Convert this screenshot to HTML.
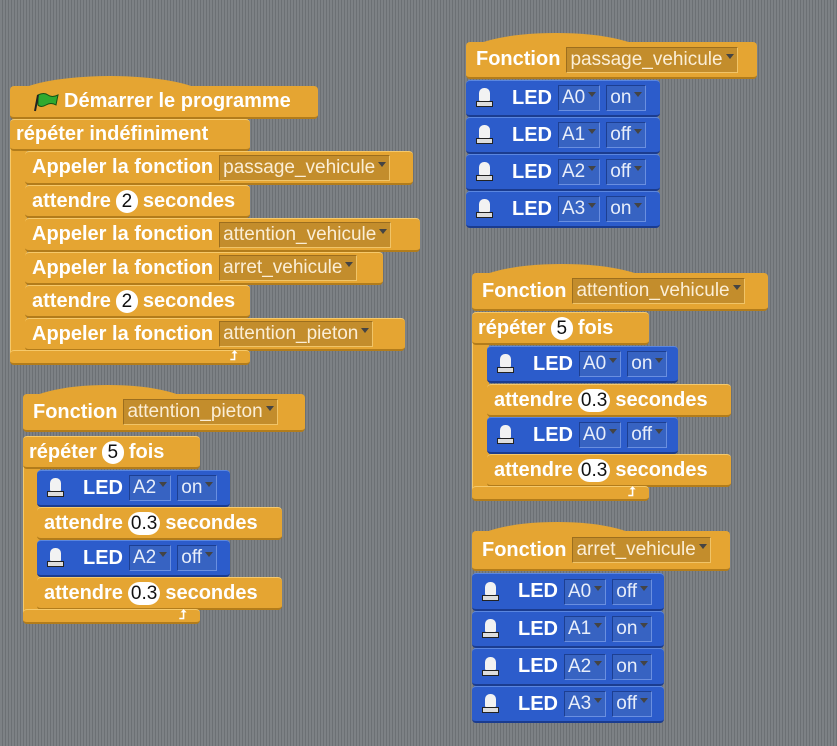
<!DOCTYPE html>
<html><head><meta charset="utf-8">
<style>
html,body{margin:0;padding:0}
body{width:837px;height:746px;overflow:hidden;position:relative;
background:repeating-linear-gradient(90deg,#7d8185 0,#7d8185 2px,#6c7074 2px,#6c7074 3px);
font-family:"Liberation Sans","DejaVu Sans",sans-serif;}
.o,.b,.h{position:absolute;box-sizing:border-box;display:flex;align-items:center;color:#fff;font-weight:bold;font-size:20px;white-space:nowrap;}
.o{background:#e5a532;border-radius:4px;border-top:1px solid #f6c96a;border-bottom:2px solid #b27c1b;padding-left:7px;}
.b{background:#2c5ccb;border-radius:4px;border-top:1px solid #5a86e0;border-bottom:2px solid #1b3c8f;padding-left:10px;}
.h{background:#e5a532;border-radius:4px;border-bottom:2px solid #b27c1b;padding-left:10px;}
.bump{position:absolute;background:#e5a532;border-radius:50% 50% 0 0/100% 100% 0 0;}
.arm{position:absolute;background:#e5a532;border-left:1px solid #f6c96a;}
.dd{display:inline-block;box-sizing:border-box;background:#c38d2c;border:1px solid #f0c468;border-top-color:#9c6e1e;border-left-color:#9c6e1e;color:#fbeed6;font-weight:normal;font-size:19px;height:26px;line-height:24px;padding:0 14px 0 3px;position:relative;margin-left:6px;}
.dd:after,.bd:after{content:"";position:absolute;right:3px;top:6px;border-left:4px solid transparent;border-right:4px solid transparent;border-top:5px solid #444;}
.bd{display:inline-block;box-sizing:border-box;background:#3763c2;border:1px solid #6a8fe0;border-top-color:#1d3f91;border-left-color:#1d3f91;color:#e8eefa;font-weight:normal;font-size:19px;height:26px;line-height:24px;padding:0 14px 0 3px;position:relative;margin-left:6px;}
.n{display:inline-block;background:#fff;color:#111;font-weight:normal;border-radius:12px;padding:0 3px;height:23px;line-height:23px;margin:0 5px;font-size:19px;min-width:16px;text-align:center;}
.led{display:inline-block;width:16px;height:20px;position:relative;margin-right:20px;}
.led:before{content:"";position:absolute;left:3px;top:0;width:11px;height:13px;background:#f2f2f2;border-radius:5px 5px 1px 1px;}
.led:after{content:"";position:absolute;left:0;top:13px;width:17px;height:6px;background:#ddd;border:1px solid #222;box-sizing:border-box;}
.ret{position:absolute;color:#fff;font-size:13px;font-weight:bold;}
</style></head><body>

<!-- main script -->
<div class="bump" style="left:10px;top:76px;width:200px;height:24px"></div>
<div class="h" style="left:10px;top:86px;width:308px;height:33px;padding-left:24px">
<svg width="26" height="20" viewBox="0 0 26 20" style="margin-right:4px"><path d="M4 3 Q10 0 14 3 T24 3 L22 13 Q17 10 12 13 T4 13 Z" fill="#2faa2f" stroke="#145214" stroke-width="1"/><line x1="4" y1="3" x2="1" y2="19" stroke="#222" stroke-width="2"/></svg>Démarrer le programme</div>
<div class="arm" style="left:10px;top:140px;width:16px;height:215px"></div>
<div class="o" style="left:10px;top:119px;width:240px;height:32px;padding-left:6px">répéter indéfiniment</div>
<div class="o" style="left:25px;top:151px;width:388px;height:34px">Appeler la fonction<span class="dd">passage_vehicule</span></div>
<div class="o" style="left:25px;top:185px;width:225px;height:33px">attendre<span class="n">2</span>secondes</div>
<div class="o" style="left:25px;top:218px;width:395px;height:34px">Appeler la fonction<span class="dd">attention_vehicule</span></div>
<div class="o" style="left:25px;top:252px;width:358px;height:33px">Appeler la fonction<span class="dd">arret_vehicule</span></div>
<div class="o" style="left:25px;top:285px;width:225px;height:33px">attendre<span class="n">2</span>secondes</div>
<div class="o" style="left:25px;top:318px;width:380px;height:33px">Appeler la fonction<span class="dd">attention_pieton</span></div>
<div class="o" style="left:10px;top:350px;width:240px;height:15px"></div>
<div class="ret" style="left:230px;top:348px">⮥</div>

<!-- passage_vehicule -->
<div class="bump" style="left:466px;top:33px;width:180px;height:22px"></div>
<div class="h" style="left:466px;top:42px;width:291px;height:37px">Fonction<span class="dd">passage_vehicule</span></div>
<div class="b" style="left:466px;top:80px;width:194px;height:37px"><span class="led"></span>LED<span class="bd">A0</span><span class="bd">on</span></div>
<div class="b" style="left:466px;top:117px;width:194px;height:37px"><span class="led"></span>LED<span class="bd">A1</span><span class="bd">off</span></div>
<div class="b" style="left:466px;top:154px;width:194px;height:37px"><span class="led"></span>LED<span class="bd">A2</span><span class="bd">off</span></div>
<div class="b" style="left:466px;top:191px;width:194px;height:37px"><span class="led"></span>LED<span class="bd">A3</span><span class="bd">on</span></div>

<!-- attention_vehicule -->
<div class="bump" style="left:472px;top:264px;width:180px;height:22px"></div>
<div class="h" style="left:472px;top:273px;width:296px;height:38px">Fonction<span class="dd">attention_vehicule</span></div>
<div class="arm" style="left:472px;top:330px;width:16px;height:165px"></div>
<div class="o" style="left:472px;top:312px;width:177px;height:33px;padding-left:6px">répéter<span class="n">5</span>fois</div>
<div class="b" style="left:487px;top:346px;width:191px;height:37px"><span class="led"></span>LED<span class="bd">A0</span><span class="bd">on</span></div>
<div class="o" style="left:487px;top:384px;width:244px;height:33px">attendre<span class="n">0.3</span>secondes</div>
<div class="b" style="left:487px;top:417px;width:191px;height:37px"><span class="led"></span>LED<span class="bd">A0</span><span class="bd">off</span></div>
<div class="o" style="left:487px;top:454px;width:244px;height:33px">attendre<span class="n">0.3</span>secondes</div>
<div class="o" style="left:472px;top:486px;width:177px;height:15px"></div>
<div class="ret" style="left:628px;top:484px">⮥</div>

<!-- attention_pieton -->
<div class="bump" style="left:23px;top:385px;width:170px;height:22px"></div>
<div class="h" style="left:23px;top:394px;width:282px;height:38px">Fonction<span class="dd">attention_pieton</span></div>
<div class="arm" style="left:23px;top:455px;width:16px;height:165px"></div>
<div class="o" style="left:23px;top:436px;width:177px;height:33px;padding-left:6px">répéter<span class="n">5</span>fois</div>
<div class="b" style="left:37px;top:470px;width:193px;height:37px"><span class="led"></span>LED<span class="bd">A2</span><span class="bd">on</span></div>
<div class="o" style="left:37px;top:507px;width:245px;height:33px">attendre<span class="n">0.3</span>secondes</div>
<div class="b" style="left:37px;top:540px;width:193px;height:37px"><span class="led"></span>LED<span class="bd">A2</span><span class="bd">off</span></div>
<div class="o" style="left:37px;top:577px;width:245px;height:33px">attendre<span class="n">0.3</span>secondes</div>
<div class="o" style="left:23px;top:609px;width:177px;height:15px"></div>
<div class="ret" style="left:179px;top:607px">⮥</div>

<!-- arret_vehicule -->
<div class="bump" style="left:472px;top:522px;width:170px;height:22px"></div>
<div class="h" style="left:472px;top:531px;width:258px;height:40px">Fonction<span class="dd">arret_vehicule</span></div>
<div class="b" style="left:472px;top:573px;width:192px;height:38px"><span class="led"></span>LED<span class="bd">A0</span><span class="bd">off</span></div>
<div class="b" style="left:472px;top:611px;width:192px;height:37px"><span class="led"></span>LED<span class="bd">A1</span><span class="bd">on</span></div>
<div class="b" style="left:472px;top:648px;width:192px;height:38px"><span class="led"></span>LED<span class="bd">A2</span><span class="bd">on</span></div>
<div class="b" style="left:472px;top:686px;width:192px;height:37px"><span class="led"></span>LED<span class="bd">A3</span><span class="bd">off</span></div>

</body></html>
